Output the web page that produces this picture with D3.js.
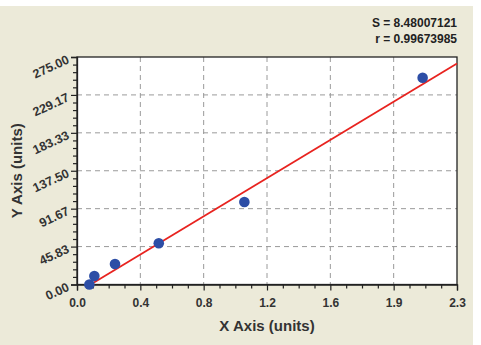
<!DOCTYPE html>
<html>
<head>
<meta charset="utf-8">
<script src="https://cdn.jsdelivr.net/npm/d3@7.9.0/dist/d3.min.js"></script>
<style>
  body { margin: 0; background: #fff; }
  svg { display: block; font-family: "Liberation Sans", Arial, sans-serif; }
</style>
</head>
<body>
<svg id="chart" width="481" height="345"></svg>
<script>
// measured points
const xValues = [0.075, 0.105, 0.23, 0.495, 1.013, 2.092];
const yValues = [0, 10.3, 24.8, 49.8, 99.7, 250];
// fitted line end points
const fitX = [0.055, 2.3];
const fitY = [-3.4, 267.2];
const xTickLabels = ['0.0', '0.4', '0.8', '1.2', '1.6', '1.9', '2.3'];
const yTickLabels = ['0.00', '45.83', '91.67', '137.50', '183.33', '229.17', '275.00'];
const statLines = ['S = 8.48007121', 'r = 0.99673985'];

const svg = d3.select('#chart');
const margin = { left: 77, top: 57, right: 457, bottom: 284.5 };

svg.append('rect')
  .attr('x', 0).attr('y', 6).attr('width', 473).attr('height', 339)
  .attr('fill', '#ecead9');

const x = d3.scaleLinear().domain([0, 2.3]).range([margin.left, margin.right]);
const y = d3.scaleLinear().domain([0, 275]).range([margin.bottom, margin.top]);

svg.append('rect')
  .attr('x', margin.left).attr('y', margin.top)
  .attr('width', margin.right - margin.left).attr('height', margin.bottom - margin.top)
  .attr('fill', '#fff');

const xMajor = d3.range(7).map(i => i * 2.3 / 6);
const yMajor = d3.range(7).map(i => i * 275 / 6);
const xMinor = d3.range(25).map(i => i * 2.3 / 24).filter((d, i) => i % 4 !== 0);
const yMinor = d3.range(31).map(i => i * 275 / 30).filter((d, i) => i % 5 !== 0);

// grid
const grid = svg.append('g').attr('stroke', '#9a9a9a').attr('stroke-dasharray', '5,4').attr('stroke-width', 1);
xMajor.slice(1, -1).forEach(v => {
  grid.append('line').attr('x1', x(v)).attr('x2', x(v)).attr('y1', margin.top).attr('y2', margin.bottom);
});
yMajor.slice(1, -1).forEach(v => {
  grid.append('line').attr('x1', margin.left).attr('x2', margin.right).attr('y1', y(v)).attr('y2', y(v));
});

// frame
svg.append('rect')
  .attr('x', margin.left).attr('y', margin.top)
  .attr('width', margin.right - margin.left).attr('height', margin.bottom - margin.top)
  .attr('fill', 'none').attr('stroke', '#222').attr('stroke-width', 1.3);

// x axis
const xAxis = svg.append('g').attr('transform', `translate(0,${margin.bottom})`)
  .call(d3.axisBottom(x).tickValues(xMajor).tickSize(6).tickFormat((d, i) => xTickLabels[i]));
svg.append('g').attr('transform', `translate(0,${margin.bottom})`)
  .call(d3.axisBottom(x).tickValues(xMinor).tickSize(4).tickFormat(''))
  .call(g => g.select('.domain').remove());
xAxis.selectAll('text')
  .attr('dy', '1.1em')
  .attr('font-size', 12).attr('font-weight', 'bold').attr('fill', '#333');

// y axis
const yAxis = svg.append('g').attr('transform', `translate(${margin.left},0)`)
  .call(d3.axisLeft(y).tickValues(yMajor).tickSize(6).tickFormat((d, i) => yTickLabels[i]));
svg.append('g').attr('transform', `translate(${margin.left},0)`)
  .call(d3.axisLeft(y).tickValues(yMinor).tickSize(4).tickFormat(''))
  .call(g => g.select('.domain').remove());
yAxis.selectAll('text')
  .attr('x', 0).attr('dy', 0)
  .attr('transform', 'translate(-7,5) rotate(-25)')
  .attr('font-size', 12.5).attr('font-weight', 'bold').attr('fill', '#333');
svg.selectAll('.tick line').attr('stroke', '#222').attr('stroke-width', 1.2);
svg.selectAll('.domain').attr('stroke', '#222').attr('stroke-width', 1.3);

// fit line
const fit = fitX.map((d, i) => [d, fitY[i]]);
svg.append('path')
  .attr('d', d3.line().x(d => x(d[0])).y(d => y(d[1]))(fit))
  .attr('fill', 'none').attr('stroke', '#e8231f').attr('stroke-width', 1.8);

// points
svg.selectAll('circle.pt')
  .data(xValues.map((d, i) => [d, yValues[i]]))
  .join('circle')
  .attr('class', 'pt')
  .attr('cx', d => x(d[0])).attr('cy', d => y(d[1]))
  .attr('r', 5.3)
  .attr('fill', '#2d4ea6');

// stats
svg.selectAll('text.stat')
  .data(statLines)
  .join('text')
  .attr('class', 'stat')
  .attr('x', 457).attr('y', (d, i) => 27 + i * 16)
  .attr('text-anchor', 'end')
  .attr('font-size', 12).attr('font-weight', 'bold').attr('fill', '#222')
  .text(d => d);

// axis titles
svg.append('text')
  .attr('x', (margin.left + margin.right) / 2).attr('y', 331)
  .attr('text-anchor', 'middle')
  .attr('font-size', 15).attr('font-weight', 'bold').attr('fill', '#333')
  .text('X Axis (units)');
svg.append('text')
  .attr('transform', `translate(22,${(margin.top + margin.bottom) / 2}) rotate(-90)`)
  .attr('text-anchor', 'middle')
  .attr('font-size', 15).attr('font-weight', 'bold').attr('fill', '#333')
  .text('Y Axis (units)');
</script>
</body>
</html>
